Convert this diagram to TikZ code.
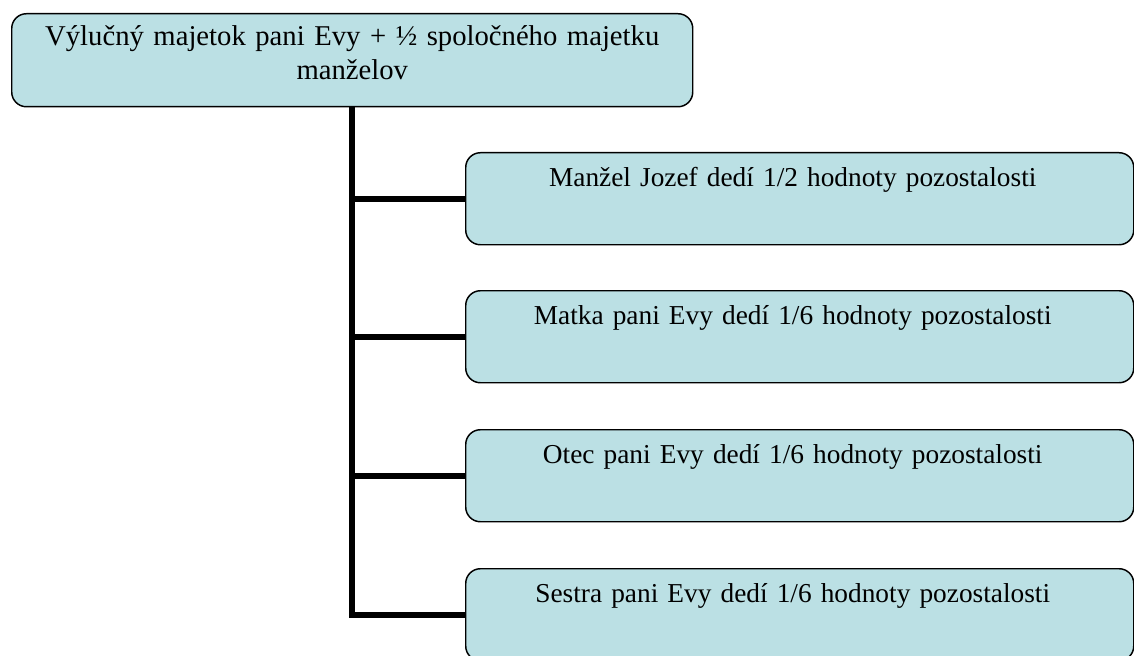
\documentclass[tikz,border=0pt]{standalone}
\usepackage{fontspec}
\setmainfont{Liberation Serif}
\definecolor{boxfill}{RGB}{187,224,228}
\tikzset{
  boxstyle/.style={draw=black, line width=1.1pt, fill=boxfill, rounded corners=11pt,
    inner sep=0pt, align=center, anchor=north west},
  child/.style={boxstyle, text width=501pt, text height=25.5pt, text depth=43.5pt,
    font=\fontsize{20.5}{25.5}\selectfont, execute at end node={\hspace*{10.5pt}}},
  conn/.style={line width=4.5pt, black}
}
\begin{document}
\begin{tikzpicture}[x=0.75pt, y=-0.75pt]
\useasboundingbox (0,0) rectangle (1134,656);
\clip (0,0) rectangle (1134,656);
\node[boxstyle, text width=510.75pt, text height=24pt, text depth=45.75pt,
  font=\fontsize{21.5}{25.5}\selectfont] (top) at (11,13)
  {Výlučný majetok pani Evy + ½ spoločného majetku\\manželov};
\node[child] (c1) at (465,152) {Manžel Jozef dedí 1/2 hodnoty pozostalosti};
\node[child] (c2) at (465,290) {Matka pani Evy dedí 1/6 hodnoty pozostalosti};
\node[child] (c3) at (465,429) {Otec pani Evy dedí 1/6 hodnoty pozostalosti};
\node[child] (c4) at (465,568) {Sestra pani Evy dedí 1/6 hodnoty pozostalosti};
\draw[conn] (top.south) |- (c4.west);
\draw[conn] (top.south |- c1.west) -- (c1.west);
\draw[conn] (top.south |- c2.west) -- (c2.west);
\draw[conn] (top.south |- c3.west) -- (c3.west);
\end{tikzpicture}
\end{document}
